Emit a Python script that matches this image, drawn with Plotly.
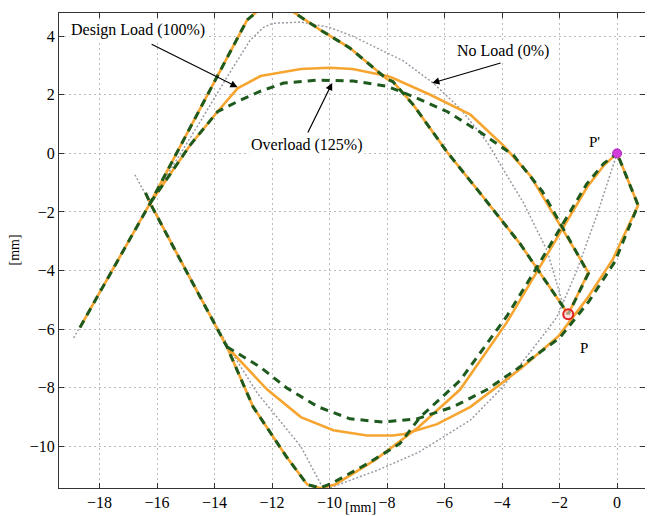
import plotly.graph_objects as go

# ---- Design Load (100%) : orange solid, several path segments ----
design_outer_x = [-18.68, -16.24, -12.87, -12.45, -12.0, -11.3, -10.3, -9.3, -8.0, -7.8, -7.1, -5.9, -4.77, -3.37, -1.7]
design_outer_y = [-5.94, -1.70, 4.55, 4.9, 4.97, 4.85, 4.2, 3.6, 2.53, 2.45, 1.67, 0.03, -1.35, -3.09, -5.49]

design_inner_x = [-16.24, -14.85, -13.9, -13.2, -12.4, -11.0, -10.0, -9.2, -8.0, -7.8, -6.5, -5.1, -3.97, -3.02, -1.0, -1.7]
design_inner_y = [-1.70, 0.28, 1.42, 2.22, 2.64, 2.88, 2.92, 2.88, 2.64, 2.57, 2.0, 1.32, 0.28, -0.76, -4.06, -5.49]

design_lower_x = [-16.4, -16.24, -15.3, -14.05, -13.57, -12.66, -11.48, -10.78, -10.33, -9.8, -8.4, -6.9, -5.46, -3.83, -2.92, -1.87, -1.04, -0.45, 0.0]
design_lower_y = [-1.35, -1.70, -3.44, -5.76, -6.6, -8.65, -10.38, -11.3, -11.42, -11.3, -10.45, -9.34, -8.06, -5.76, -4.24, -2.5, -1.15, -0.4, 0.0]

design_bottom_x = [-13.57, -12.17, -11.0, -9.87, -8.7, -7.8, -7.4, -6.26, -5.1, -3.37, -2.05, -1.04, -0.14, 0.73, 0.0]
design_bottom_y = [-6.6, -8.06, -9.0, -9.45, -9.63, -9.63, -9.58, -9.24, -8.65, -7.36, -6.25, -4.95, -3.6, -1.77, 0.0]

# ---- Overload (125%) : green dashed ----
over_outer_x = design_outer_x
over_outer_y = design_outer_y

over_inner_x = [-16.24, -14.85, -13.9, -13.2, -12.4, -11.6, -10.43, -9.18, -8.0, -7.1, -5.9, -4.77, -3.6, -2.6, -1.0, -1.7]
over_inner_y = [-1.70, 0.28, 1.42, 1.77, 2.12, 2.4, 2.5, 2.47, 2.29, 1.94, 1.42, 0.73, -0.07, -1.3, -4.1, -5.49]

over_lower_x = [-16.4, -16.24, -15.3, -14.05, -13.57, -12.66, -11.48, -10.78, -10.33, -9.9, -8.7, -7.55, -6.85, -5.46, -3.83, -2.92, -1.9, -1.06, -0.47, 0.0]
over_lower_y = [-1.35, -1.70, -3.44, -5.76, -6.6, -8.65, -10.38, -11.3, -11.42, -11.25, -10.6, -9.9, -9.0, -7.75, -5.55, -4.1, -2.4, -1.05, -0.35, 0.0]

over_bottom_x = [-13.57, -12.4, -11.5, -10.4, -9.29, -8.13, -6.96, -5.7, -4.52, -3.37, -2.0, -0.98, -0.08, 0.73, 0.0]
over_bottom_y = [-6.6, -7.3, -8.0, -8.65, -9.06, -9.17, -9.06, -8.65, -8.06, -7.28, -6.3, -5.05, -3.7, -1.77, 0.0]

# ---- No Load (0%) : gray dotted ----
noload_upper_x = [-18.9, -16.24, -14.5, -13.57, -12.77, -12.3, -11.96, -11.0, -10.0, -9.2, -7.44, -6.4, -5.46, -4.52, -3.83, -3.25, -2.43, -1.87]
noload_upper_y = [-6.3, -1.68, 1.08, 2.6, 3.85, 4.3, 4.44, 4.48, 4.3, 4.0, 3.16, 2.4, 1.53, 0.38, -0.76, -1.7, -3.33, -5.2]

noload_lower_x = [-16.77, -16.24, -14.0, -13.4, -12.5, -11.0, -10.3, -10.0, -8.3, -6.9, -5.1, -4.0, -2.8, -2.1, -1.4, -0.7, 0.0]
noload_lower_y = [-0.73, -1.68, -5.76, -6.8, -8.2, -10.0, -11.3, -11.42, -10.8, -10.2, -9.1, -8.0, -6.5, -5.6, -4.0, -2.1, 0.0]

# ---- marked points ----
point_labels = ["P", "P'"]
point_x = [-1.7, 0.0]
point_y = [-5.49, 0.0]

ORANGE = "#F7A531"
GREEN = "#1E5A1E"
GRAY = "#9A9AA6"

fig = go.Figure()

for xs, ys in [(noload_upper_x, noload_upper_y), (noload_lower_x, noload_lower_y)]:
    fig.add_trace(go.Scatter(x=xs, y=ys, mode="lines", line=dict(color=GRAY, width=1.5, dash="2px,2px"),
                             showlegend=False, hoverinfo="skip"))

for xs, ys in [(design_outer_x, design_outer_y), (design_inner_x, design_inner_y),
               (design_lower_x, design_lower_y), (design_bottom_x, design_bottom_y)]:
    fig.add_trace(go.Scatter(x=xs, y=ys, mode="lines", line=dict(color=ORANGE, width=2.6),
                             showlegend=False, hoverinfo="skip"))

for xs, ys in [(over_outer_x, over_outer_y), (over_inner_x, over_inner_y),
               (over_lower_x, over_lower_y), (over_bottom_x, over_bottom_y)]:
    fig.add_trace(go.Scatter(x=xs, y=ys, mode="lines", line=dict(color=GREEN, width=3, dash="8px,6px"),
                             showlegend=False, hoverinfo="skip"))

fig.add_trace(go.Scatter(x=[point_x[0]], y=[point_y[0]], mode="markers",
                         marker=dict(symbol="circle", size=10, color="rgba(255,200,200,0.6)",
                                     line=dict(color="#E02020", width=2)),
                         showlegend=False, hoverinfo="skip"))
fig.add_trace(go.Scatter(x=[point_x[1]], y=[point_y[1]], mode="markers",
                         marker=dict(symbol="circle", size=9, color="#D040D8",
                                     line=dict(color="#B020C0", width=1)),
                         showlegend=False, hoverinfo="skip"))

FONT = "Liberation Serif"
fig.add_annotation(x=point_x[0] + 0.55, y=point_y[0] - 1.15, text=point_labels[0], showarrow=False,
                   font=dict(family=FONT, size=15, color="black"))
fig.add_annotation(x=point_x[1] - 0.8, y=point_y[1] + 0.4, text=point_labels[1], showarrow=False,
                   font=dict(family=FONT, size=15, color="black"))

annos = [
    ("Design Load (100%)", -16.66, 4.2, -16.24, 3.75, -13.2, 2.26),
    ("Overload (125%)", -10.8, 0.3, -10.78, 0.66, -9.91, 2.4),
    ("No Load (0%)", -3.97, 3.5, -4.0, 3.1, -6.43, 2.4),
]
for text, tx, ty, ax0, ay0, hx, hy in annos:
    fig.add_annotation(x=tx, y=ty, text=text, showarrow=False, bgcolor="white",
                       font=dict(family=FONT, size=16, color="black"))
    fig.add_annotation(x=hx, y=hy, ax=ax0, ay=ay0, xref="x", yref="y", axref="x", ayref="y",
                       text="", showarrow=True, arrowhead=2, arrowsize=1.2, arrowwidth=1.2,
                       arrowcolor="black")

# axis titles
fig.add_annotation(x=0.515, y=0, xref="paper", yref="paper", yanchor="top", yshift=-10,
                   text="[mm]", showarrow=False, font=dict(family=FONT, size=14, color="black"))
fig.add_annotation(x=0, y=0.5, xref="paper", yref="paper", xanchor="center", xshift=-45,
                   text="[mm]", textangle=-90, showarrow=False, font=dict(family=FONT, size=14, color="black"))

axis_common = dict(showgrid=True, gridcolor="#BBBBBB", griddash="2px,3px", gridwidth=1,
                   ticks="inside", ticklen=5, tickcolor="#333", mirror="ticks",
                   showline=True, linecolor="#333", linewidth=1, zeroline=False, automargin=False,
                   tickfont=dict(family=FONT, size=16, color="black"), dtick=2, tick0=0)

fig.update_xaxes(range=[-19.41, 0.97], **axis_common)
fig.update_yaxes(range=[-11.42, 4.79], **axis_common)

# the page body adds an 8px offset, so the figure is 8px smaller and margins shifted
fig.update_layout(width=645, height=508, margin=dict(l=51, r=8, t=5, b=28),
                  plot_bgcolor="white", paper_bgcolor="white", showlegend=False)

fig.write_html("out.html")
